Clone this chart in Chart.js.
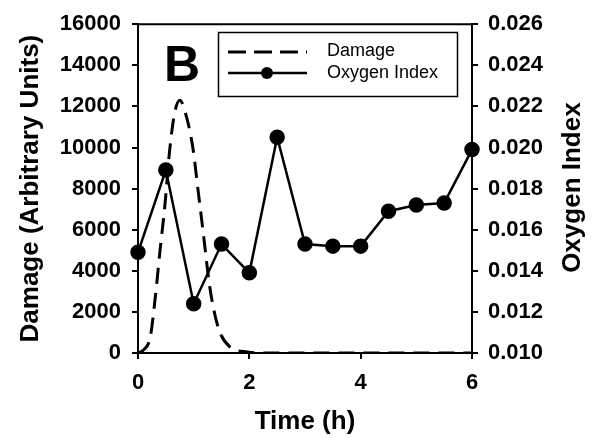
<!DOCTYPE html>
<html>
<head>
<meta charset="utf-8">
<script src="https://cdn.jsdelivr.net/npm/chart.js@4"></script>
<style>
  html, body { margin: 0; padding: 0; background: #fff; }
  #wrap { width: 592px; height: 438px; }
</style>
</head>
<body>
<div id="wrap"><canvas id="chart" width="592" height="438"></canvas></div>
<script>
// damage curve (time in h, arbitrary units)
const damageTimes = [0, 0.1, 0.22, 0.31, 0.40, 0.48, 0.57, 0.66, 0.75, 0.88, 0.99, 1.08, 1.17, 1.29, 1.44, 1.65, 1.96, 2.3, 3, 4, 5, 6];
const damageValues = [0, 150, 770, 2700, 5100, 7100, 9900, 11700, 12300, 11400, 9900, 7900, 5900, 3200, 1250, 300, 50, 0, 0, 0, 0, 0];

// oxygen index, sampled every half hour
const oxygenTimes = [0, 0.5, 1, 1.5, 2, 2.5, 3, 3.5, 4, 4.5, 5, 5.5, 6];
const oxygenValues = [0.0149, 0.0189, 0.0124, 0.0153, 0.0139, 0.0205, 0.0153, 0.0152, 0.0152, 0.0169, 0.0172, 0.0173, 0.0199];

const xTicks = [0, 2, 4, 6];
const legendLabels = ['Damage', 'Oxygen Index'];
const rightTitle = 'Oxygen Index';
const panelLetter = 'B';

const tickFont = { family: 'Liberation Sans', size: 22, weight: 'bold' };
const titleFont = { family: 'Liberation Sans', size: 26, weight: 'bold' };

// box frame, panel letter, legend and right axis title (reads bottom to top)
const decor = {
    id: 'decor',
    afterDraw(chart) {
        const { ctx, chartArea } = chart;
        ctx.save();
        ctx.strokeStyle = '#000';
        ctx.lineWidth = 2;
        ctx.beginPath();
        ctx.moveTo(chartArea.left, chartArea.top);
        ctx.lineTo(chartArea.right, chartArea.top);
        ctx.stroke();

        ctx.fillStyle = '#000';
        ctx.font = 'bold 50px "Liberation Sans"';
        ctx.textAlign = 'center';
        ctx.textBaseline = 'alphabetic';
        ctx.fillText(panelLetter, 182, 81);

        // legend box
        ctx.lineWidth = 1.5;
        ctx.strokeRect(218.5, 32.5, 239, 64);
        ctx.lineWidth = 3;
        ctx.setLineDash([18, 8]);
        ctx.beginPath();
        ctx.moveTo(228, 52);
        ctx.lineTo(307, 52);
        ctx.stroke();
        ctx.setLineDash([]);
        ctx.lineWidth = 2.5;
        ctx.beginPath();
        ctx.moveTo(228, 73);
        ctx.lineTo(307, 73);
        ctx.stroke();
        ctx.beginPath();
        ctx.arc(267, 73, 6, 0, Math.PI * 2);
        ctx.fill();

        ctx.font = '18px "Liberation Sans"';
        ctx.textAlign = 'left';
        ctx.textBaseline = 'middle';
        ctx.fillText(legendLabels[0], 327, 51);
        ctx.fillText(legendLabels[1], 327, 73);

        const cy = (chartArea.top + chartArea.bottom) / 2;
        ctx.translate(573, cy - 1);
        ctx.rotate(-Math.PI / 2);
        ctx.font = 'bold 26px "Liberation Sans"';
        ctx.textAlign = 'center';
        ctx.fillText(rightTitle, 0, 0);
        ctx.restore();
    }
};

const axisCommon = {
    grid: { display: true, drawOnChartArea: false, drawTicks: true, tickLength: 6, color: '#000', lineWidth: 2 },
    border: { display: true, color: '#000', width: 2 },
};

new Chart(document.getElementById('chart'), {
    type: 'line',
    data: {
        datasets: [
            {
                label: legendLabels[0],
                data: damageTimes.map((t, i) => ({ x: t, y: damageValues[i] })),
                yAxisID: 'y',
                borderColor: '#000',
                borderWidth: 3,
                borderDash: [16, 9],
                pointRadius: 0,
                cubicInterpolationMode: 'monotone',
                fill: false
            },
            {
                label: legendLabels[1],
                data: oxygenTimes.map((t, i) => ({ x: t, y: oxygenValues[i] })),
                yAxisID: 'y2',
                borderColor: '#000',
                backgroundColor: '#000',
                borderWidth: 2.5,
                pointRadius: 6.5,
                pointBackgroundColor: '#000',
                pointBorderColor: '#000',
                tension: 0,
                clip: false,
                fill: false
            }
        ]
    },
    options: {
        responsive: false,
        animation: false,
        layout: { padding: { top: 22, left: 0, right: 0, bottom: 0 } },
        plugins: { legend: { display: false }, tooltip: { enabled: false } },
        scales: {
            x: {
                type: 'linear',
                min: 0, max: 6,
                afterBuildTicks: (s) => { s.ticks = xTicks.map(v => ({ value: v })); },
                afterFit: (s) => { s.height = 85; },
                ticks: { font: tickFont, color: '#000', padding: 11 },
                title: { display: true, text: 'Time (h)', font: titleFont, color: '#000', padding: { top: 0, bottom: 1 } },
                ...axisCommon
            },
            y: {
                position: 'left',
                min: 0, max: 16000,
                afterFit: (s) => { s.width = 138; },
                ticks: { stepSize: 2000, font: tickFont, color: '#000', padding: 11, callback: (v) => String(v) },
                title: { display: true, text: 'Damage (Arbitrary Units)', font: titleFont, color: '#000', padding: { top: 15, bottom: 0 } },
                ...axisCommon
            },
            y2: {
                position: 'right',
                min: 0.010, max: 0.026,
                afterFit: (s) => { s.width = 120; },
                ticks: { stepSize: 0.002, font: tickFont, color: '#000', padding: 10, callback: (v) => v.toFixed(3) },
                title: { display: false },
                ...axisCommon
            }
        }
    },
    plugins: [decor]
});
</script>
</body>
</html>
